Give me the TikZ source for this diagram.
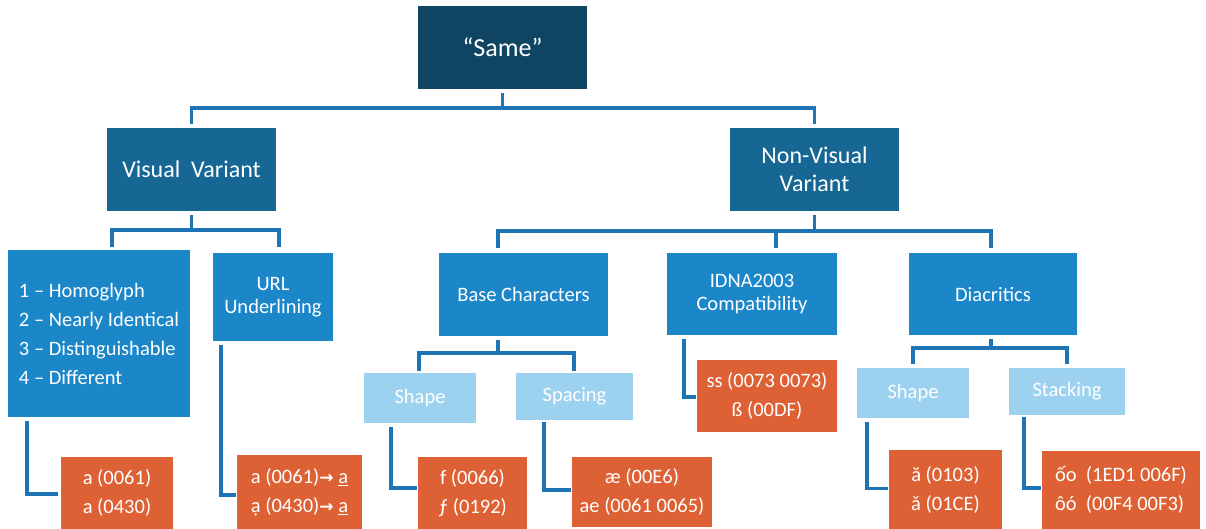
\documentclass[tikz,border=0pt]{standalone}
\usepackage{fontspec}
\setmainfont{Carlito}
\newfontfamily\arrowfont{DejaVu Sans}
\definecolor{cRoot}{HTML}{0F4463}
\definecolor{cLone}{HTML}{166794}
\definecolor{cLtwo}{HTML}{1B86C8}
\definecolor{cLight}{HTML}{9CD2F0}
\definecolor{cOrange}{HTML}{DD6134}
\definecolor{cConn}{HTML}{1D75B5}
\begin{document}
\begin{tikzpicture}[x=1pt,y=-1pt,
  bx/.style={rectangle, inner sep=0pt, outer sep=0pt, text=white, align=center,
    font=\fontsize{20.5}{29}\selectfont},
  rootbox/.style={bx, fill=cRoot, font=\fontsize{26}{30}\selectfont},
  lonebox/.style={bx, fill=cLone, font=\fontsize{24}{28}\selectfont},
  ltwobox/.style={bx, fill=cLtwo},
  lightbox/.style={bx, fill=cLight},
  orabox/.style={bx, fill=cOrange},
  conn/.style={draw=cConn, line width=3.2pt}]
\useasboundingbox (0,0) rectangle (1206,529);

% level 0 / 1
\node[rootbox, minimum width=169pt, minimum height=83pt] (root) at (502.5,47.5) {“Same”};
\node[lonebox, minimum width=169pt, minimum height=83pt] (vis) at (191.5,169.5) {Visual\hspace{0.45em}Variant};
\node[lonebox, minimum width=169pt, minimum height=83pt] (nonvis) at (814.5,169.5) {Non-Visual\\Variant};

% level 2
\node[ltwobox, minimum width=182pt, minimum height=167pt, align=left] (homo) at (99,333.5)
  {1 – Homoglyph\\2 – Nearly Identical\\3 – Distinguishable\\4 – Different};
\node[ltwobox, minimum width=120pt, minimum height=88pt, font=\fontsize{20.5}{23}\selectfont] (url) at (273,297) {URL\\Underlining};
\node[ltwobox, minimum width=169pt, minimum height=83pt] (base) at (523.5,294.5) {Base Characters};
\node[ltwobox, minimum width=170pt, minimum height=82pt, font=\fontsize{20.5}{23}\selectfont] (idna) at (752,294) {IDNA2003\\Compatibility};
\node[ltwobox, minimum width=168pt, minimum height=82pt] (diac) at (993,294) {Diacritics};

% level 3
\node[lightbox, minimum width=112pt, minimum height=50pt] (shapeA) at (420,398) {Shape};
\node[lightbox, minimum width=117pt, minimum height=47pt] (spacing) at (574.5,396.5) {Spacing};
\node[lightbox, minimum width=112pt, minimum height=50pt] (shapeB) at (913,393) {Shape};
\node[lightbox, minimum width=116pt, minimum height=47pt] (stack) at (1067,391.5) {Stacking};

% examples
\node[orabox, minimum width=112pt, minimum height=72pt] (oA) at (117,493) {a (0061)\\а (0430)};
\node[orabox, minimum width=125pt, minimum height=74pt] (oB) at (299.5,492)
  {a (0061){\arrowfont\bfseries\fontsize{17}{29}\selectfont→} \underline{a}\\ạ (0430){\arrowfont\bfseries\fontsize{17}{29}\selectfont→} \underline{a}};
\node[orabox, minimum width=109pt, minimum height=72pt] (oC) at (472.5,493) {f (0066)\\ƒ (0192)};
\node[orabox, minimum width=140pt, minimum height=70pt] (oD) at (642,492) {æ (00E6)\\ae (0061 0065)};
\node[orabox, minimum width=140pt, minimum height=72pt] (oE) at (767,396) {ss (0073 0073)\\ß (00DF)};
\node[orabox, minimum width=113pt, minimum height=79pt] (oF) at (945.5,489.5) {ă (0103)\\ǎ (01CE)};
\node[orabox, minimum width=158pt, minimum height=78pt, align=left] (oG) at (1121,490) {ốo\ \ (1ED1 006F)\\ôó\ \ (00F4 00F3)};

% tree connectors
\draw[conn] ([yshift=-4pt]root.south) -- ([yshift=-19pt]root.south);
\draw[conn] ([yshift=4pt]vis.north) |- ([yshift=-19pt]root.south) -| ([yshift=4pt]nonvis.north);

\draw[conn] ([yshift=-4pt]vis.south) -- ([yshift=-19pt]vis.south);
\draw[conn] ([xshift=13pt,yshift=3pt]homo.north) |- ([yshift=-19pt]vis.south) -| ([xshift=6pt,yshift=6pt]url.north);

\draw[conn] ([yshift=-4pt]nonvis.south) -- ([yshift=-20pt]nonvis.south);
\draw[conn] ([xshift=-25.5pt,yshift=5pt]base.north) |- ([yshift=-20pt]nonvis.south) -| ([xshift=-2pt,yshift=5pt]diac.north);
\draw[conn] ([yshift=-20pt]nonvis.south) -| ([xshift=24pt,yshift=5pt]idna.north);

\draw[conn] ([xshift=-25.5pt,yshift=-4pt]base.south) -- ([xshift=-25.5pt,yshift=-17pt]base.south);
\draw[conn] ([xshift=-1pt,yshift=2pt]shapeA.north) |- ([xshift=-25.5pt,yshift=-17pt]base.south) -| ([xshift=-0.5pt,yshift=2pt]spacing.north);

\draw[conn] ([xshift=-2pt,yshift=-4pt]diac.south) -- ([xshift=-2pt,yshift=-13pt]diac.south);
\draw[conn] ([yshift=4pt]shapeB.north) |- ([xshift=-2pt,yshift=-13pt]diac.south) -| ([yshift=4pt]stack.north);

% leaf connectors
\draw[conn] ([xshift=19pt,yshift=-4pt]homo.south west) |- ([xshift=-3pt,yshift=-1pt]oA.west);
\draw[conn] ([xshift=8pt,yshift=-4pt]url.south west) |- ([xshift=-1pt,yshift=-3pt]oB.west);
\draw[conn] ([xshift=27pt,yshift=-4pt]shapeA.south west) |- ([xshift=-1pt,yshift=5pt]oC.west);
\draw[conn] ([xshift=28pt,yshift=-2pt]spacing.south west) |- ([xshift=-1pt,yshift=2pt]oD.west);
\draw[conn] ([xshift=17pt,yshift=-4pt]idna.south west) |- ([xshift=-1pt,yshift=-1pt]oE.west);
\draw[conn] ([xshift=10pt,yshift=-4pt]shapeB.south west) |- ([xshift=-1pt,yshift=1pt]oF.west);
\draw[conn] ([xshift=15pt,yshift=-2pt]stack.south west) |- ([xshift=-1pt,yshift=2pt]oG.west);
\end{tikzpicture}
\end{document}
